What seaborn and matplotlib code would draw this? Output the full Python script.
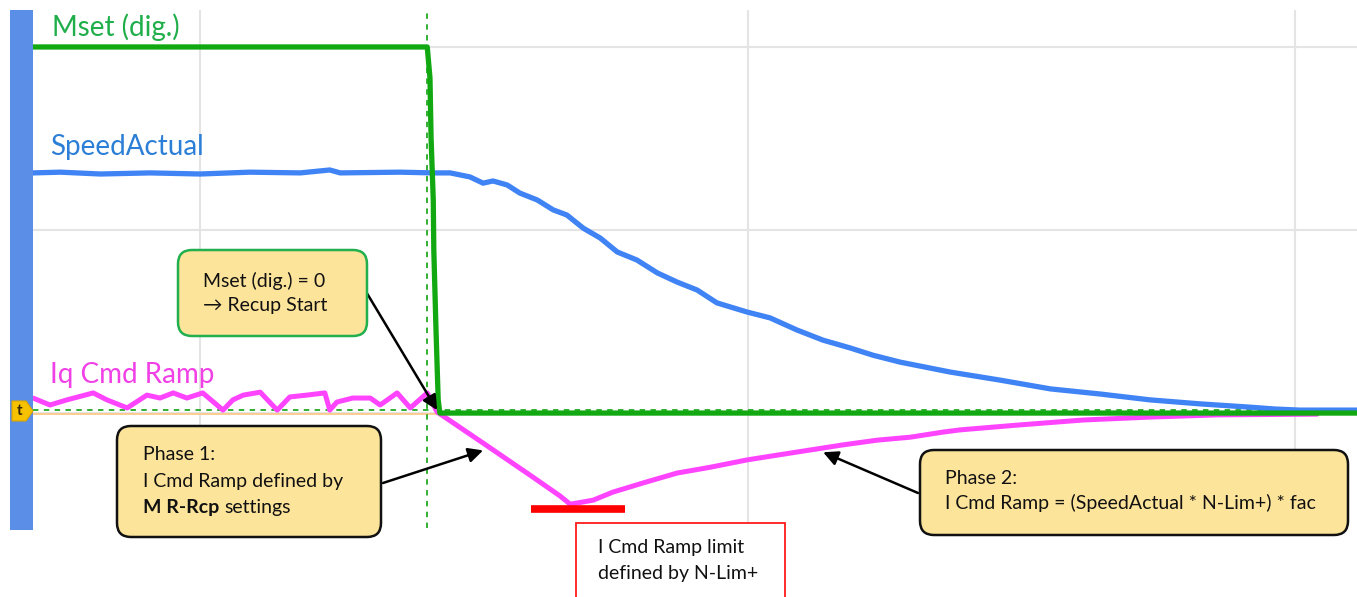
import matplotlib
import matplotlib.pyplot as plt
import pandas as pd
import seaborn as sns
from matplotlib.patches import FancyBboxPatch, Rectangle, Polygon

matplotlib.use('Agg')

# time in ms (one grid division = 100 ms), signals in % of Mset high level
mset_t = [-30.5, 41.5, 42.0, 42.2, 42.6, 42.7, 43.1, 43.5, 43.8, 211.3]
mset_v = [100.0, 100.0, 91.5, 75.1, 58.2, 44.5, 22.7, 3.6, 0.0, 0.0]

speed_t = [-30.5, -25.5, -18.2, -9.1, 0.0, 9.1, 18.3, 23.7, 25.6, 36.5, 42.6,
           45.7, 49.3, 51.7, 53.5, 56.1, 58.4, 61.6, 64.5, 67.0, 70.0, 73.1,
           76.2, 79.8, 83.5, 87.1, 90.8, 94.4, 99.9, 104.1, 109.0, 113.8,
           118.7, 122.9, 127.9, 137.0, 146.1, 155.3, 164.4, 173.5, 182.7,
           191.8, 196.3, 200.9, 211.3]
speed_v = [65.6, 65.8, 65.3, 65.6, 65.3, 65.8, 65.6, 66.4, 65.6, 65.8, 65.6,
           65.6, 64.5, 62.8, 63.4, 62.3, 60.1, 58.2, 55.5, 54.1, 50.5, 47.8,
           44.0, 41.8, 38.3, 35.8, 33.6, 30.1, 27.6, 26.0, 22.7, 19.9,
           17.8, 15.8, 13.9, 11.2, 9.0, 6.6, 5.2, 3.6, 2.5,
           1.6, 1.1, 0.8, 0.8]

iq_t = [-30.5, -27.4, -24.3, -19.5, -17.0, -13.3, -9.7, -7.3, -4.9, -2.4, 0.5,
        4.2, 6.0, 7.9, 11.0, 14.1, 16.4, 19.5, 22.8, 23.7, 25.0, 27.9, 31.1,
        32.9, 36.0, 38.4, 41.5, 43.3, 51.7, 60.8, 65.8, 67.6, 71.8, 75.4,
        80.9, 87.1, 93.2, 99.9, 105.4, 111.4, 117.4, 123.7, 129.7, 135.7,
        138.8, 149.2, 161.3, 173.5, 185.8, 204.0]
iq_v = [4.1, 2.2, 3.6, 5.5, 3.6, 1.4, 4.9, 4.1, 5.5, 4.1, 5.5,
        0.8, 3.6, 4.9, 5.7, 0.8, 4.4, 4.9, 5.5, 0.8, 3.0, 4.1, 4.1,
        2.2, 5.5, 1.4, 5.5, 0.3, -8.2, -17.5, -22.7, -24.9, -23.8, -21.6,
        -19.1, -16.4, -14.8, -12.8, -11.5, -10.1, -8.7, -7.4, -6.6, -5.2,
        -4.6, -3.3, -1.9, -1.1, -0.5, -0.3]

trigger_t = 41.5
limit_v = -26.2
limit_t = [60.5, 77.6]

grid_x = [0, 100, 200]
grid_y = [0, 50, 100]

W, H = 1357, 597


def fx(px):
    return px / W


def fy(py):
    return 1 - py / H


sns.set_theme(style="white")
plt.rcParams['font.family'] = ['Lato', 'DejaVu Sans']

fig = plt.figure(figsize=(W / 100, H / 100), dpi=100)
ax = fig.add_axes([fx(33), fy(528), fx(1357 - 33), 518 / H])

for gx in grid_x:
    ax.axvline(gx, color='#e4e4e4', lw=1.5, zorder=0)
for gy in grid_y:
    ax.axhline(gy, color='#e4e4e4', lw=1.5, zorder=0)

df_speed = pd.DataFrame({'t': speed_t, 'v': speed_v})
df_iq = pd.DataFrame({'t': iq_t, 'v': iq_v})
df_mset = pd.DataFrame({'t': mset_t, 'v': mset_v})

# trigger markers
ax.plot([speed_t[0], 43.8], [-0.3, -0.3], color='#ffc680', lw=1.2, zorder=1)
ax.axhline(0.8, color='#22aa22', lw=1.3, ls=(0, (3, 3)), zorder=1)
ax.axvline(trigger_t, color='#22aa22', lw=1.3, ls=(0, (3, 3)), zorder=1)

sns.lineplot(data=df_speed, x='t', y='v', ax=ax, color='#3f83f5', lw=3.8,
             estimator=None, sort=False, zorder=3)
sns.lineplot(data=df_iq, x='t', y='v', ax=ax, color='#ff44ff', lw=3.6,
             estimator=None, sort=False, zorder=3)
sns.lineplot(data=df_mset, x='t', y='v', ax=ax, color='#12a812', lw=3.8,
             estimator=None, sort=False, zorder=4)

ax.plot(limit_t, [limit_v, limit_v], color='#ff0000', lw=5.5,
        solid_capstyle='butt', zorder=5, clip_on=False)

ax.set_xlim(-30.5, 211.3)
ax.set_ylim(-31.4, 110.1)
ax.set_xlabel('')
ax.set_ylabel('')
ax.set_xticks([])
ax.set_yticks([])
for s in ax.spines.values():
    s.set_visible(False)

# left channel bar and trigger flag
fig.add_artist(Rectangle((fx(10), fy(530)), fx(23), 520 / H,
                         transform=fig.transFigure, color='#5b8ee6', lw=0))
fig.add_artist(Polygon([(fx(12), fy(401)), (fx(26), fy(401)), (fx(33), fy(411)),
                        (fx(26), fy(421)), (fx(12), fy(421))], closed=True,
                       transform=fig.transFigure, facecolor='#f6c200',
                       edgecolor='#d9a400', lw=0.8))
fig.text(fx(20), fy(411), 't', color='#3a2a00', fontsize=11, fontweight='bold',
         ha='center', va='center')

# trace labels
fig.text(fx(52), fy(27), 'Mset (dig.)', color='#1fae4a', fontsize=20,
         va='center')
fig.text(fx(50), fy(147), 'SpeedActual', color='#2c7fd6', fontsize=20,
         va='center')
fig.text(fx(50), fy(375), 'Iq Cmd Ramp', color='#f040e6', fontsize=20,
         va='center')


def box(x0, y0, x1, y1, edge, face='#fde49b', rounding=14, lw=1.8):
    if rounding:
        style = f'round,pad=0,rounding_size={rounding}'
    else:
        style = 'square,pad=0'
    p = FancyBboxPatch((x0, H - y1), x1 - x0, y1 - y0, boxstyle=style,
                       transform=matplotlib.transforms.IdentityTransform(),
                       facecolor=face, edgecolor=edge, lw=lw, zorder=6)
    fig.add_artist(p)


def arrow(start, tip):
    ax.annotate('', xy=tip, xycoords='data',
                xytext=(start[0], H - start[1]), textcoords='figure pixels',
                arrowprops=dict(arrowstyle='-|>', color='black', lw=1.8,
                                mutation_scale=22, shrinkA=0, shrinkB=0),
                annotation_clip=False, zorder=7)


box_fs = 14

box(178, 250, 367, 336, '#22b04e')
fig.text(fx(203), fy(281), 'Mset (dig.) = 0', fontsize=box_fs, va='center',
         color='#111111', zorder=8)
fig.text(fx(203), fy(305), '\u2192 Recup Start', fontsize=box_fs, va='center',
         color='#111111', zorder=8)
arrow((365, 290), (43.3, 0.8))

box(117, 426, 381, 537, '#111111')
fig.text(fx(143), fy(455), 'Phase 1:', fontsize=box_fs, va='center',
         color='#111111', zorder=8)
fig.text(fx(143), fy(482), 'I Cmd Ramp defined by', fontsize=box_fs,
         va='center', color='#111111', zorder=8)
bold = fig.text(fx(143), fy(508), 'M R-Rcp', fontsize=box_fs, va='center',
                fontweight='bold', color='#111111', zorder=8)
bw = bold.get_window_extent(renderer=fig.canvas.get_renderer()).width
fig.text(fx(143 + bw + 5), fy(508), 'settings', fontsize=box_fs, va='center',
         color='#111111', zorder=8)
arrow((383, 483), (51.7, -10.2))

box(920, 450, 1348, 535, '#111111')
fig.text(fx(945), fy(478), 'Phase 2:', fontsize=box_fs, va='center',
         color='#111111', zorder=8)
fig.text(fx(945), fy(503), 'I Cmd Ramp = (SpeedActual * N-Lim+) * fac',
         fontsize=box_fs, va='center', color='#111111', zorder=8)
arrow((918, 493), (113.8, -10.7))

box(576, 523, 785, 602, '#ff1a1a', face='white', rounding=0, lw=1.3)
fig.text(fx(598), fy(548), 'I Cmd Ramp limit', fontsize=box_fs, va='center',
         color='#111111', zorder=8)
fig.text(fx(598), fy(573), 'defined by N-Lim+', fontsize=box_fs, va='center',
         color='#111111', zorder=8)

fig.savefig('out.png', dpi=100)
plt.close(fig)
